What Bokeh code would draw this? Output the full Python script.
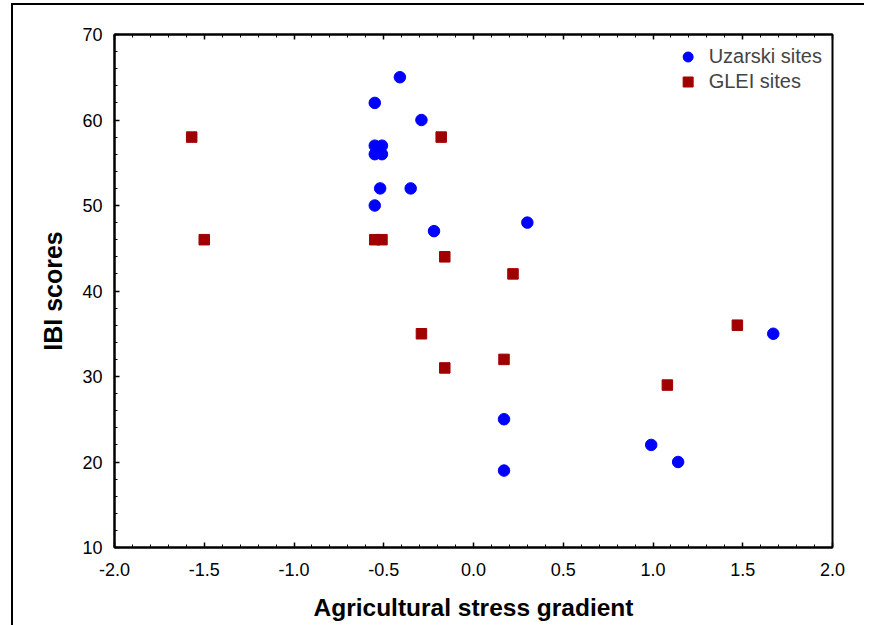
from bokeh.plotting import figure
from bokeh.models import (Legend, LegendItem, LinearAxis, SingleIntervalTicker,
                          NumeralTickFormatter, Range1d)
from bokeh.embed import file_html
from bokeh.resources import INLINE

# Uzarski sites
uz_x = [-0.41, -0.55, -0.29, -0.55, -0.51, -0.55, -0.51, -0.52, -0.35, -0.55, -0.22, 0.30, 0.17, 0.17, 0.99, 1.14, 1.67]
uz_y = [65, 62, 60, 57, 57, 56, 56, 52, 52, 50, 47, 48, 25, 19, 22, 20, 35]
# GLEI sites
gl_x = [-1.57, -1.50, -0.18, -0.55, -0.51, -0.16, 0.22, -0.29, -0.16, 0.17, 1.08, 1.47]
gl_y = [58, 46, 58, 46, 46, 44, 42, 35, 31, 32, 29, 36]

x_title = "Agricultural stress gradient"
y_title = "IBI scores"
series_names = ["Uzarski sites", "GLEI sites"]

FONT = "Liberation Sans"

p = figure(frame_width=718, frame_height=513,
           x_range=Range1d(-2.0, 2.0), y_range=Range1d(10, 70),
           output_backend="svg", toolbar_location=None,
           min_border_left=101, min_border_top=29, min_border_right=32, min_border_bottom=78,
           x_axis_location=None, y_axis_location=None)
p.styles = {"border-left": "2px solid black", "border-top": "2px solid black",
            "margin-left": "11px", "margin-top": "3px"}

p.xgrid.visible = False
p.ygrid.visible = False
p.outline_line_color = "black"
p.outline_line_width = 2
p.background_fill_color = "white"
p.border_fill_color = "white"


def style_axis(ax, labels=True):
    ax.axis_line_width = 2
    ax.axis_line_color = "black"
    ax.major_tick_in = 5
    ax.major_tick_out = 0
    ax.minor_tick_in = 3
    ax.minor_tick_out = 0
    ax.major_tick_line_width = 1.5
    ax.minor_tick_line_width = 1
    ax.major_label_text_font = FONT
    ax.major_label_text_font_size = "18px"
    ax.major_label_text_color = "black"
    ax.axis_label_text_font = FONT
    ax.axis_label_text_font_size = "24.5px"
    ax.axis_label_text_font_style = "bold"
    ax.axis_label_text_color = "black"
    if not labels:
        ax.major_label_text_alpha = 0
        ax.major_label_text_font_size = "1px"


xt = SingleIntervalTicker(interval=0.5, num_minor_ticks=5)
yt = SingleIntervalTicker(interval=10, num_minor_ticks=5)

xb = LinearAxis(ticker=xt, formatter=NumeralTickFormatter(format="0.0"), axis_label=x_title)
style_axis(xb)
xb.major_label_standoff = 15
xb.axis_label_standoff = 15
p.add_layout(xb, "below")

xa = LinearAxis(ticker=xt)
style_axis(xa, labels=False)
xa.major_label_standoff = 0
p.add_layout(xa, "above")

yl = LinearAxis(ticker=yt, formatter=NumeralTickFormatter(format="0"), axis_label=y_title)
style_axis(yl)
yl.axis_label_text_font_size = "25px"
yl.major_label_standoff = 12
yl.axis_label_standoff = 12
p.add_layout(yl, "left")

r_uz = p.scatter(uz_x, uz_y, marker="circle", size=11.5, fill_color="#0000FF", line_color="#0000FF")
r_gl = p.scatter(gl_x, gl_y, marker="square", size=10.5, fill_color="#A00000", line_color="#A00000")

legend = Legend(items=[LegendItem(label=series_names[0], renderers=[r_uz]),
                       LegendItem(label=series_names[1], renderers=[r_gl])],
                location="top_right", margin=3, padding=7, spacing=0,
                glyph_width=30, glyph_height=25, label_height=25, label_standoff=6,
                label_text_font=FONT, label_text_font_size="20px",
                background_fill_alpha=0, border_line_alpha=0)
p.add_layout(legend)

open("out.html", "w").write(file_html(p, INLINE))
